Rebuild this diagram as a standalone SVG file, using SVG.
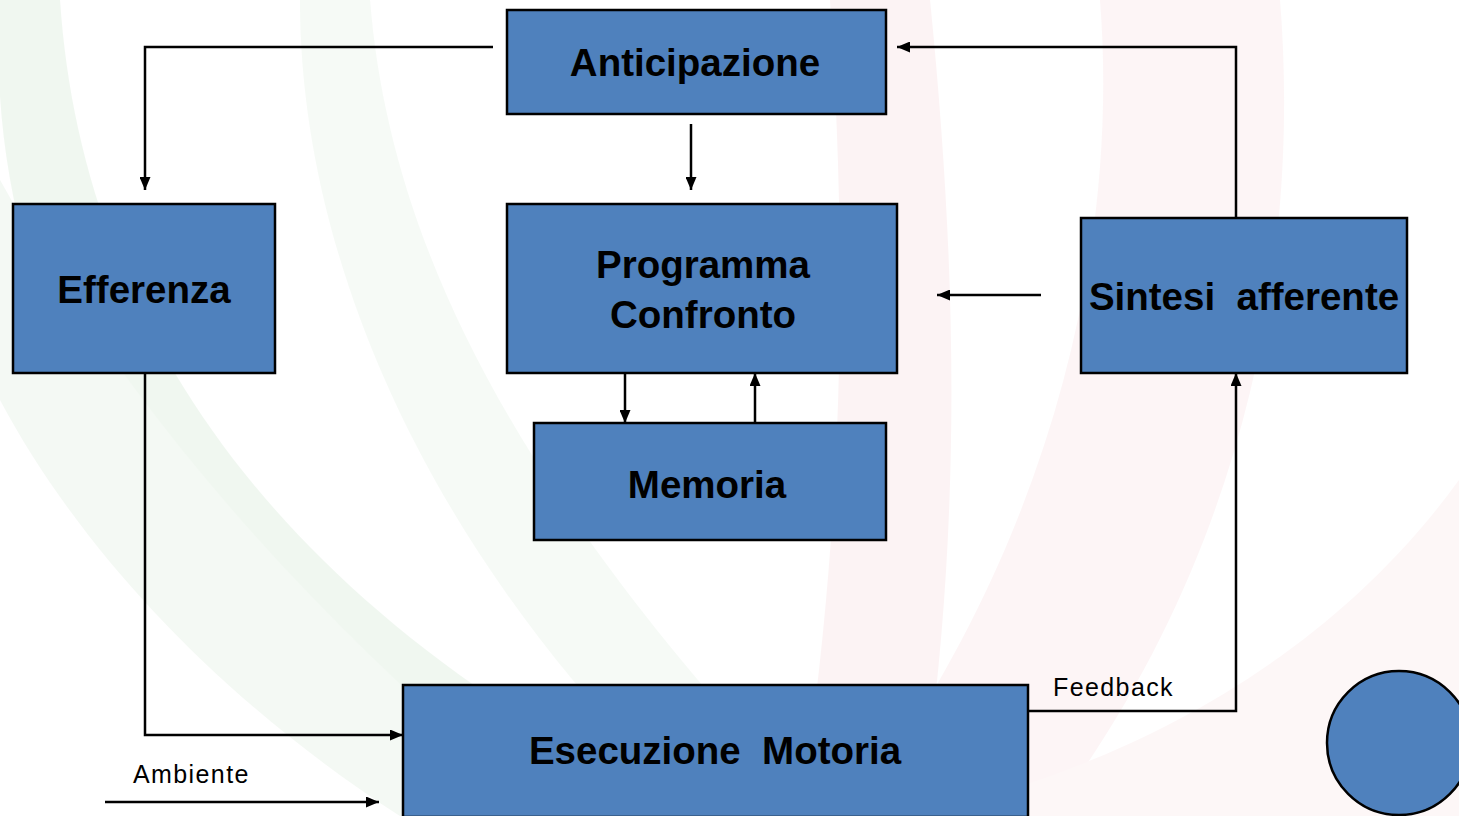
<svg xmlns="http://www.w3.org/2000/svg" width="1459" height="816" viewBox="0 0 1459 816">
<style>
.box{fill:#4f81bd;stroke:#000;stroke-width:2.5}
.t{font-family:"Liberation Sans",Arial,sans-serif;font-weight:bold;font-size:38.5px;fill:#000;text-anchor:middle;white-space:pre}
.lbl{font-family:"Liberation Sans",Arial,sans-serif;font-size:25px;letter-spacing:1.4px;fill:#000}
.c{fill:none;stroke:#000;stroke-width:2.5}
</style>
<defs>
<marker id="ah" viewBox="0 0 13 11" refX="13" refY="5.5" markerWidth="13" markerHeight="11" markerUnits="userSpaceOnUse" orient="auto">
<path d="M0,0 L13,5.5 L0,11 z" fill="#000"/>
</marker>
</defs>
<rect width="1459" height="816" fill="#fff"/>
<g id="background" opacity="0.5">
<path d="M60,0 C80,300 250,600 700,816 L420,816 C150,600 -20,300 0,0 z" fill="#e3f1e3"/>
<path d="M370,0 C390,250 520,500 820,816 L700,816 C420,550 300,250 300,0 z" fill="#eef7ee"/>
<path d="M0,180 C150,450 350,650 550,816 L400,816 C220,700 80,550 0,400 z" fill="#eaf4ea"/>
<path d="M830,0 C850,300 840,550 800,816 L920,816 C960,550 960,300 930,0 z" fill="#fbe8ea"/>
<path d="M1100,0 C1120,250 1050,550 850,816 L1050,816 C1250,550 1300,250 1280,0 z" fill="#fcecee"/>
<path d="M1459,480 C1300,700 1050,790 900,816 L1459,816 z" fill="#fdf0f1"/>
</g>
<g id="connectors">
<polyline class="c" points="493,47 145,47 145,190" marker-end="url(#ah)"/>
<line class="c" x1="691" y1="124" x2="691" y2="190" marker-end="url(#ah)"/>
<polyline class="c" points="1236,218 1236,47 897,47" marker-end="url(#ah)"/>
<line class="c" x1="1041" y1="295" x2="937" y2="295" marker-end="url(#ah)"/>
<line class="c" x1="625" y1="373" x2="625" y2="423" marker-end="url(#ah)"/>
<line class="c" x1="755" y1="423" x2="755" y2="373" marker-end="url(#ah)"/>
<polyline class="c" points="145,373 145,735 403,735" marker-end="url(#ah)"/>
<line class="c" x1="105" y1="802" x2="379" y2="802" marker-end="url(#ah)"/>
<polyline class="c" points="1028,711 1236,711 1236,373" marker-end="url(#ah)"/>
<text class="lbl" x="133" y="783">Ambiente</text>
<text class="lbl" x="1053" y="696">Feedback</text>
</g>
<g id="anticipazione">
<rect class="box" x="507" y="10" width="379" height="104"/>
<text class="t" x="695" y="76">Anticipazione</text>
</g>
<g id="efferenza">
<rect class="box" x="13" y="204" width="262" height="169"/>
<text class="t" x="144" y="303">Efferenza</text>
</g>
<g id="programma">
<rect class="box" x="507" y="204" width="390" height="169"/>
<text class="t" x="703" y="278">Programma</text>
<text class="t" x="703" y="328">Confronto</text>
</g>
<g id="sintesi">
<rect class="box" x="1081" y="218" width="326" height="155"/>
<text class="t" x="1244" y="310">Sintesi  afferente</text>
</g>
<g id="memoria">
<rect class="box" x="534" y="423" width="352" height="117"/>
<text class="t" x="707" y="498">Memoria</text>
</g>
<g id="esecuzione">
<rect class="box" x="403" y="685" width="625" height="132"/>
<text class="t" x="715" y="764">Esecuzione  Motoria</text>
</g>
<g id="cerchio">
<circle class="box" cx="1399" cy="743" r="72"/>
</g>
</svg>
